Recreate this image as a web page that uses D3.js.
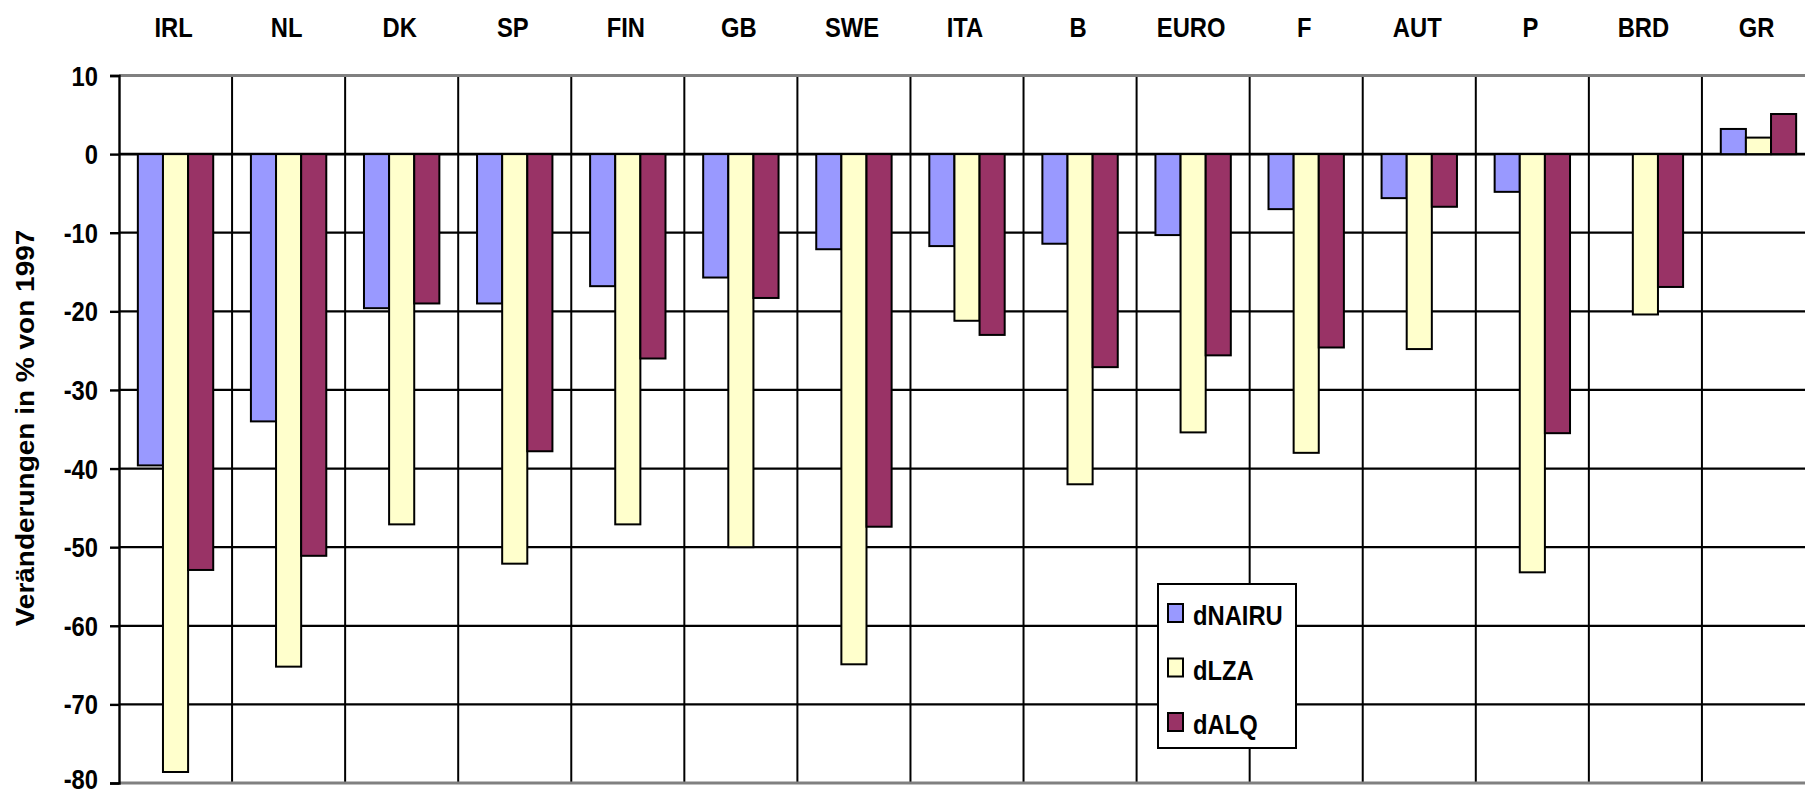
<!DOCTYPE html>
<html>
<head>
<meta charset="utf-8">
<script src="https://cdn.jsdelivr.net/npm/d3@7"></script>
<style>
  html, body { margin: 0; padding: 0; background: #fff; }
  svg { display: block; }
  text { font-family: "Liberation Sans", Arial, sans-serif; font-weight: bold; fill: #000; }
</style>
</head>
<body>
<svg id="chart" width="1805" height="794"></svg>
<script>
// Countries along the top axis
const categories = ["IRL", "NL", "DK", "SP", "FIN", "GB", "SWE", "ITA", "B", "EURO", "F", "AUT", "P", "BRD", "GR"];

// Series (change in % relative to 1997); null = no bar
const seriesNames = ["dNAIRU", "dLZA", "dALQ"];
const dNAIRU = [-39.6, -34.0, -19.6, -19.0, -16.8, -15.7, -12.1, -11.7, -11.4, -10.3, -7.0, -5.6, -4.8, null, 3.2];
const dLZA   = [-78.6, -65.2, -47.1, -52.1, -47.1, -50.0, -64.9, -21.2, -42.0, -35.4, -38.0, -24.8, -53.2, -20.4, 2.1];
const dALQ   = [-52.9, -51.1, -19.0, -37.8, -26.0, -18.3, -47.4, -23.0, -27.1, -25.6, -24.6, -6.7, -35.5, -16.9, 5.1];

const yTicks = [10, 0, -10, -20, -30, -40, -50, -60, -70, -80];
const yTitle = "Veränderungen in % von 1997";

const seriesValues = [dNAIRU, dLZA, dALQ];
const colors = ["#9999FF", "#FFFFCC", "#993366"];

const svg = d3.select("#chart");
const W = 1805, H = 794;
const plotLeft = 119, plotRight = 1815, plotTop = 75.5, plotBottom = 783;
const textSX = 0.88; // horizontal squeeze of the bold labels

svg.append("rect").attr("width", W).attr("height", H).attr("fill", "#fff");

const x = d3.scaleBand().domain(categories).range([plotLeft, plotRight]).paddingInner(0).paddingOuter(0);
const xs = d3.scaleBand().domain(seriesNames).range([0, x.bandwidth()]).paddingInner(0).paddingOuter(0.75);
const y = d3.scaleLinear().domain([-80, 10]).range([plotBottom, plotTop]);

// horizontal gridlines
const grid = svg.append("g");
grid.selectAll("line.h")
  .data(yTicks.filter(t => t !== 10 && t !== -80))
  .join("line")
  .attr("x1", plotLeft).attr("x2", W)
  .attr("y1", d => y(d)).attr("y2", d => y(d))
  .attr("stroke", "#000")
  .attr("stroke-width", d => d === 0 ? 2.6 : 2.2);

// vertical category dividers
grid.selectAll("line.v")
  .data(categories.slice(1))
  .join("line")
  .attr("x1", d => x(d)).attr("x2", d => x(d))
  .attr("y1", y(10)).attr("y2", y(-80))
  .attr("stroke", "#000").attr("stroke-width", 2);

// top and bottom frame lines
[10, -80].forEach(v => {
  grid.append("line")
    .attr("x1", plotLeft).attr("x2", W)
    .attr("y1", y(v)).attr("y2", y(v))
    .attr("stroke", "#808080").attr("stroke-width", 3.2);
});

// bars
const bars = svg.append("g");
seriesNames.forEach((s, si) => {
  const vals = seriesValues[si];
  bars.append("g").selectAll("rect")
    .data(categories.map((c, i) => ({ c, v: vals[i] })).filter(d => d.v !== null))
    .join("rect")
    .attr("x", d => x(d.c) + xs(s))
    .attr("width", xs.bandwidth())
    .attr("y", d => y(Math.max(0, d.v)))
    .attr("height", d => Math.abs(y(d.v) - y(0)))
    .attr("fill", colors[si])
    .attr("stroke", "#000")
    .attr("stroke-width", 2);
});

// y axis
const yAxis = d3.axisLeft(y).tickValues(yTicks).tickSize(9).tickPadding(0).tickFormat(d3.format("d"));
const ag = svg.append("g").attr("transform", `translate(${plotLeft},0)`).call(yAxis);
ag.select(".domain").attr("stroke", "#000").attr("stroke-width", 2.4);
ag.selectAll(".tick line").attr("stroke", "#000").attr("stroke-width", 2.4);
ag.selectAll(".tick text")
  .attr("x", null).attr("dy", null)
  .attr("font-size", 27)
  .attr("text-anchor", "end")
  .attr("dominant-baseline", "central")
  // keep the lowest label clear of the bottom edge
  .attr("transform", d => `translate(-21,${d === -80 ? -4 : 0}) scale(${textSX},1)`)
  .text(d => String(d).replace("-", "-"));

// category labels across the top
svg.append("g").selectAll("text")
  .data(categories)
  .join("text")
  .attr("font-size", 27)
  .attr("text-anchor", "middle")
  .attr("transform", d => `translate(${x(d) + x.bandwidth() / 2 - 2},37) scale(${textSX},1)`)
  .text(d => d);

// y axis title
svg.append("text")
  .attr("font-size", 25)
  .attr("text-anchor", "middle")
  .attr("transform", "translate(34,428) rotate(-90) scale(1.12,1)")
  .text(yTitle);

// legend
const lg = svg.append("g");
lg.append("rect")
  .attr("x", 1158).attr("y", 584).attr("width", 138).attr("height", 164)
  .attr("fill", "#fff").attr("stroke", "#000").attr("stroke-width", 2);
seriesNames.forEach((s, i) => {
  const yy = 604 + i * 54.5;
  lg.append("rect")
    .attr("x", 1168).attr("y", yy).attr("width", 15).attr("height", 18)
    .attr("fill", colors[i]).attr("stroke", "#000").attr("stroke-width", 2);
  lg.append("text")
    .attr("font-size", 27)
    .attr("transform", `translate(1193,${yy + 21}) scale(${textSX},1)`)
    .text(s);
});
</script>
</body>
</html>
